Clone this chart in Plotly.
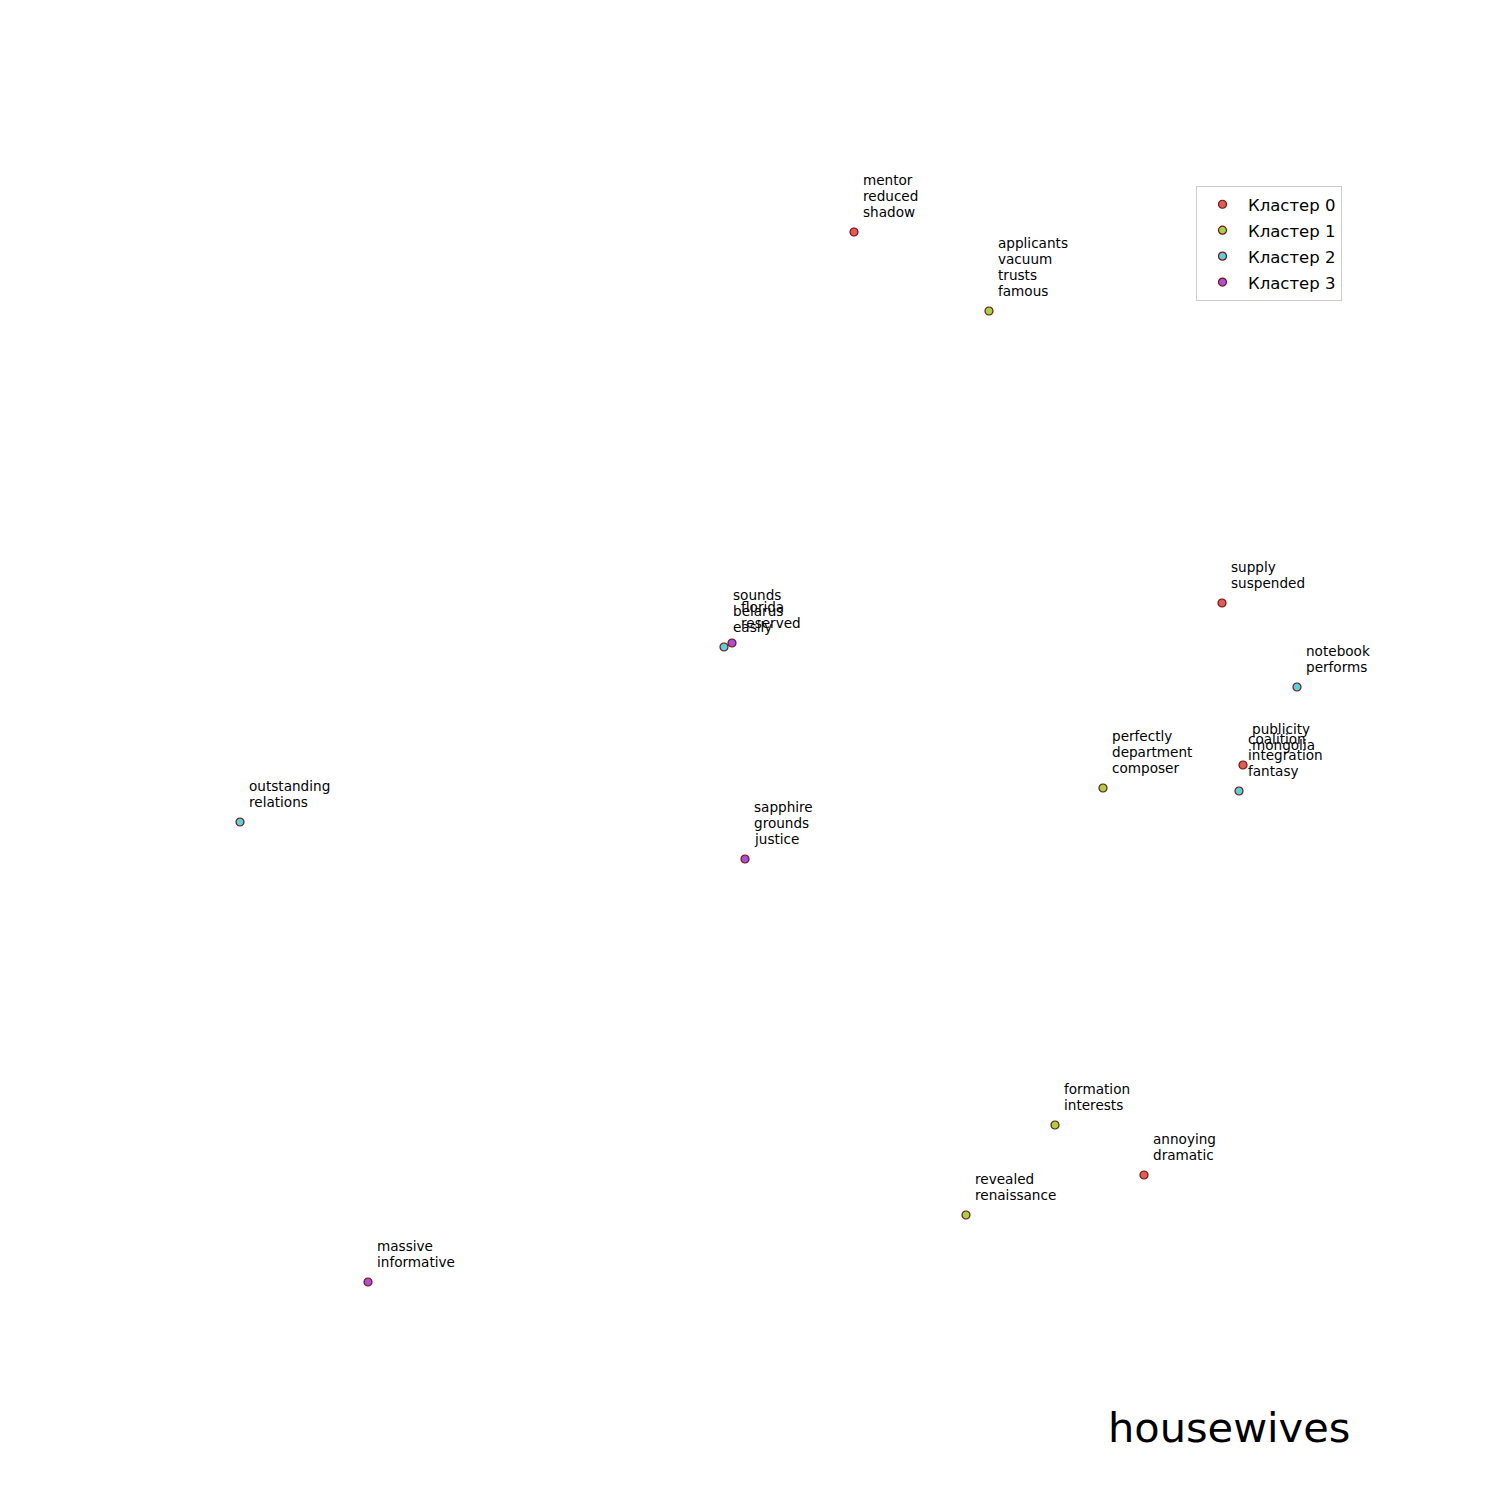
import plotly.graph_objects as go

# cluster data: x, y (data units), labels
cluster_names = ["Кластер 0", "Кластер 1", "Кластер 2", "Кластер 3"]
cluster_colors = ["#db5f57", "#9fd648", "#57d3db", "#a850d8"]

c0_x = [854, 1222, 1243, 1144]
c0_y = [232, 603, 765, 1175]
c0_labels = [["mentor", "reduced", "shadow"], ["supply", "suspended"],
             ["publicity", "mongolia"], ["annoying", "dramatic"]]

c1_x = [989, 1103, 1055, 966]
c1_y = [311, 788, 1125, 1215]
c1_labels = [["applicants", "vacuum", "trusts", "famous"],
             ["perfectly", "department", "composer"],
             ["formation", "interests"], ["revealed", "renaissance"]]

c2_x = [724, 1297, 1239, 240]
c2_y = [647, 687, 791, 822]
c2_labels = [["sounds", "belarus", "easily"], ["notebook", "performs"],
             ["coalition", "integration", "fantasy"], ["outstanding", "relations"]]

c3_x = [732, 745, 368]
c3_y = [643, 859, 1282]
c3_labels = [["florida", "reserved"], ["sapphire", "grounds", "justice"],
             ["massive", "informative"]]

title_word = "housewives"

clusters = [(c0_x, c0_y, c0_labels), (c1_x, c1_y, c1_labels),
            (c2_x, c2_y, c2_labels), (c3_x, c3_y, c3_labels)]

LINE_PX = 16

fig = go.Figure()
annotations = []
for i, (xs, ys, labs) in enumerate(clusters):
    fig.add_trace(go.Scatter(
        x=xs, y=ys, mode="markers", name=cluster_names[i],
        legendgroup=f"g{i}",
        marker=dict(size=8, color=cluster_colors[i],
                    line=dict(color="#7a1010", width=1.2)),
    ))
    for x, y, lab in zip(xs, ys, labs):
        n = len(lab)
        for j, word in enumerate(lab):
            annotations.append(dict(
                x=x, y=y, xref="x", yref="y", text=word,
                showarrow=False, xanchor="left", yanchor="bottom", align="left",
                xshift=8, yshift=11 + LINE_PX * (n - 1 - j),
                font=dict(family="DejaVu Sans", size=13.6, color="black"),
                borderpad=0,
            ))

annotations.append(dict(
    x=1351 / 1500, y=1 - 1453 / 1500, xref="paper", yref="paper",
    text=title_word, showarrow=False, xanchor="right", yanchor="bottom",
    font=dict(family="DejaVu Sans", size=41.5, color="black"),
    borderpad=0,
))

fig.update_layout(
    width=1500, height=1500,
    margin=dict(l=0, r=0, t=0, b=0),
    paper_bgcolor="white", plot_bgcolor="white",
    xaxis=dict(range=[0, 1500], visible=False),
    yaxis=dict(range=[1500, 0], visible=False),
    annotations=annotations,
    showlegend=True,
    legend=dict(
        x=1342 / 1500, y=1 - 186 / 1500, xanchor="right", yanchor="top",
        bordercolor="#cccccc", borderwidth=1, bgcolor="white",
        font=dict(family="DejaVu Sans", size=16.5, color="black"),
        itemwidth=41, tracegroupgap=1.5, traceorder="grouped",
    ),
)

fig.write_html("out.html")
